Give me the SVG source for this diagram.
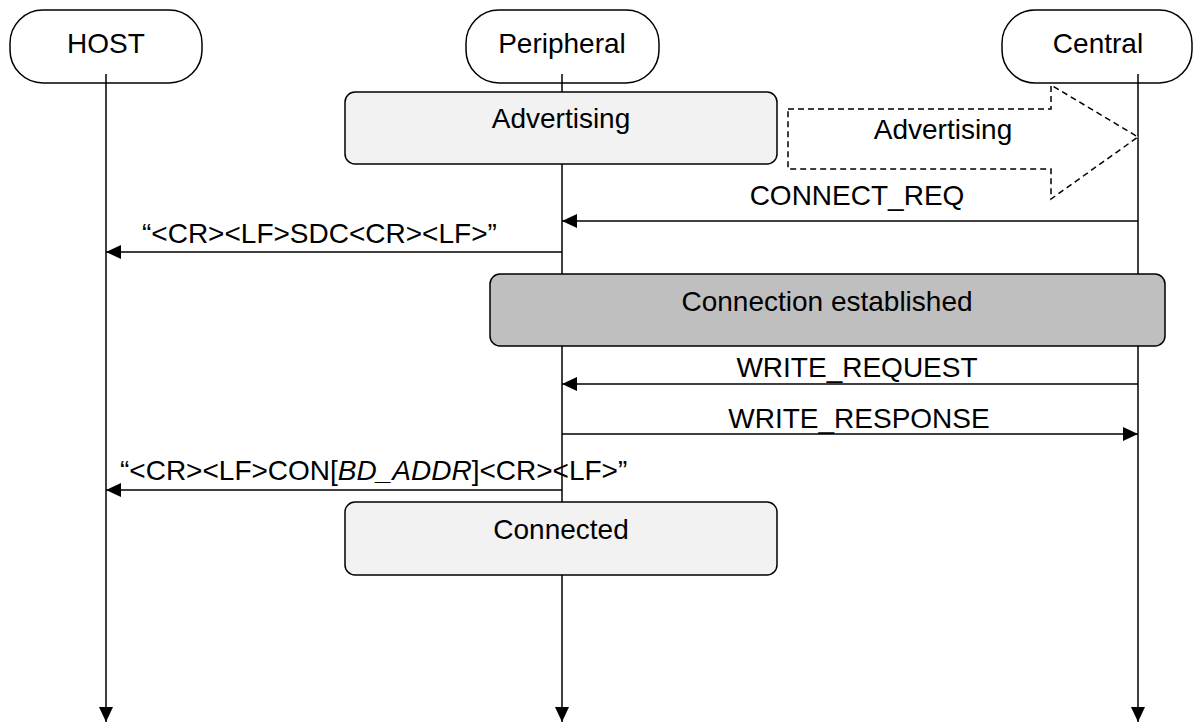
<svg xmlns="http://www.w3.org/2000/svg" width="1194" height="722" viewBox="0 0 1194 722">
<defs>
<style>
text{font-family:"Liberation Sans",Arial,sans-serif;font-size:28px;fill:#000}
.hd{fill:#fff;stroke:#000;stroke-width:1.5}
.life{stroke:#000;stroke-width:1.5;fill:none}
.msg{stroke:#000;stroke-width:1.5;fill:none;marker-end:url(#ah)}
.st{fill:#f2f2f2;stroke:#000;stroke-width:1.5}
.st2{fill:#bfbfbf;stroke:#000;stroke-width:1.5}
.dash{fill:#fff;stroke:#000;stroke-width:1.5;stroke-dasharray:6 4}
</style>
<marker id="ah" markerUnits="userSpaceOnUse" markerWidth="16" markerHeight="14" refX="15" refY="7" orient="auto">
<path d="M0,0 L15,7 L0,14 z" fill="#000"/>
</marker>
</defs>
<rect width="1194" height="722" fill="#fff"/>
<g id="host">
<rect class="hd" x="10" y="10" width="192" height="73" rx="33"/>
<text x="106" y="53" text-anchor="middle">HOST</text>
</g>
<g id="peripheral">
<rect class="hd" x="466" y="10" width="193" height="73" rx="33"/>
<text x="562" y="53" text-anchor="middle">Peripheral</text>
</g>
<g id="central">
<rect class="hd" x="1002" y="10" width="190" height="73" rx="33"/>
<text x="1098" y="53" text-anchor="middle">Central</text>
</g>
<g id="lifelines">
<line class="msg" x1="106" y1="74" x2="106" y2="722"/>
<line class="msg" x1="562" y1="74" x2="562" y2="722"/>
<line class="msg" x1="1138" y1="74" x2="1138" y2="722"/>
</g>
<g id="adv-state">
<rect class="st" x="345" y="92" width="432" height="72" rx="10"/>
<text x="561" y="128" text-anchor="middle">Advertising</text>
</g>
<g id="adv-broadcast">
<polygon class="dash" points="788,109 1051,109 1051,85 1138,137 1051,199 1051,169 788,169"/>
<text x="943" y="139" text-anchor="middle">Advertising</text>
</g>
<g id="conn-established">
<rect class="st2" x="490" y="274" width="675" height="72" rx="10"/>
<text x="827" y="311" text-anchor="middle">Connection established</text>
</g>
<g id="connected">
<rect class="st" x="345" y="502" width="432" height="73" rx="10"/>
<text x="561" y="539" text-anchor="middle">Connected</text>
</g>
<g id="messages">
<line class="msg" x1="1138" y1="221" x2="562" y2="221"/>
<text x="857" y="205" text-anchor="middle">CONNECT_REQ</text>
<line class="msg" x1="562" y1="252" x2="106" y2="252"/>
<text x="142" y="243">“&lt;CR&gt;&lt;LF&gt;SDC&lt;CR&gt;&lt;LF&gt;”</text>
<line class="msg" x1="1138" y1="384" x2="562" y2="384"/>
<text x="857" y="377" text-anchor="middle">WRITE_REQUEST</text>
<line class="msg" x1="562" y1="434" x2="1138" y2="434"/>
<text x="859" y="428" text-anchor="middle">WRITE_RESPONSE</text>
<line class="msg" x1="562" y1="490" x2="106" y2="490"/>
<text x="120" y="480">“&lt;CR&gt;&lt;LF&gt;CON[<tspan font-style="italic">BD_ADDR</tspan>]&lt;CR&gt;&lt;LF&gt;”</text>
</g>
</svg>
